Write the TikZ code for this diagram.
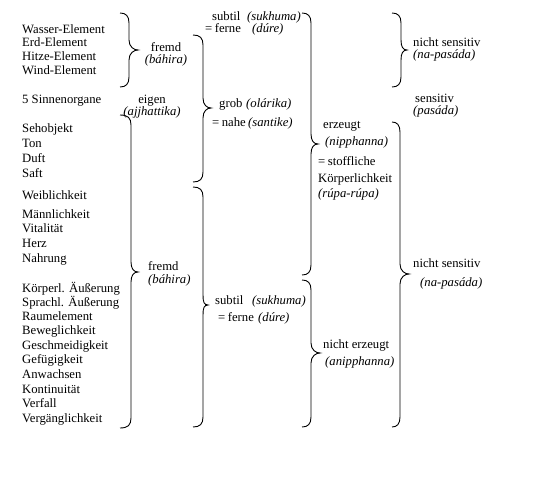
\documentclass[tikz,border=0pt]{standalone}
\usepackage{fontspec}
\setmainfont{Liberation Serif}
\tikzset{
  lbl/.style={anchor=base west, inner sep=0pt, font=\fontsize{12.7bp}{14bp}\selectfont},
  itl/.style={lbl, font=\fontsize{12.7bp}{14bp}\selectfont\itshape},
  lblc/.style={lbl, anchor=base},
  itlc/.style={itl, anchor=base},
  brc/.style={line width=0.9bp, black}
}
% right-pointing curly brace: end x, vertical x, tip x, top y, mid y, bottom y
\newcommand{\curlyR}[6]{%
  \draw[brc] (#1,#4) .. controls (#2-3,#4) and (#2,#4+3) .. (#2,#4+10)
    -- (#2,#5-10) .. controls (#2,#5-3) and (#3-4,#5) .. (#3,#5)
    .. controls (#3-4,#5) and (#2,#5+3) .. (#2,#5+10)
    -- (#2,#6-10) .. controls (#2,#6-3) and (#2-3,#6) .. (#1,#6);}
\newcommand{\eqsp}{=\kern2.5bp}
\begin{document}
\begin{tikzpicture}[x=1bp,y=-1bp]
\fill[white] (0,0) rectangle (536,486);
\useasboundingbox (0,0) rectangle (536,486);
% left column
\node[lbl] (w1) at (22,34) {Wasser-Element};
\node[lbl] (w2) at (22,47) {Erd-Element};
\node[lbl] (w3) at (22,61) {Hitze-Element};
\node[lbl] (w4) at (22,75) {Wind-Element};
\node[lbl] (s5) at (22,104) {5 Sinnenorgane};
\node[lbl] (o1) at (22,133) {Sehobjekt};
\node[lbl] (o2) at (22,148) {Ton};
\node[lbl] (o3) at (22,163) {Duft};
\node[lbl] (o4) at (22,178) {Saft};
\node[lbl] (o5) at (22,200) {Weiblichkeit};
\node[lbl] (o6) at (22,218) {Männlichkeit};
\node[lbl] (o7) at (22,232) {Vitalität};
\node[lbl] (o8) at (22,247) {Herz};
\node[lbl] (o9) at (22,262) {Nahrung};
\node[lbl] (p1) at (22,292) {Körperl. Äußerung};
\node[lbl] (p2) at (22,306) {Sprachl. Äußerung};
\node[lbl] (p3) at (22,320) {Raumelement};
\node[lbl] (p4) at (22,334) {Beweglichkeit};
\node[lbl] (p5) at (22,349) {Geschmeidigkeit};
\node[lbl] (p6) at (22,363) {Gefügigkeit};
\node[lbl] (p7) at (22,378) {Anwachsen};
\node[lbl] (p8) at (22,393) {Kontinuität};
\node[lbl] (p9) at (22,407) {Verfall};
\node[lbl] (p10) at (22,422) {Vergänglichkeit};
% braces column 1
\curlyR{120}{129}{138}{13}{50}{87}
\curlyR{120}{131}{138}{115}{272}{428}
% column 2 labels
\node[lblc] (fr1) at (166,52) {fremd};
\node[itlc] (ba1) at (166,64) {(báhira)};
\node[lblc] (ei) at (152,104) {eigen};
\node[itlc] (aj) at (152,116) {(ajjhattika)};
\node[lbl] (fr2) at (148,270) {fremd};
\node[itl] (ba2) at (148,283) {(báhira)};
% braces column 2
\curlyR{193}{203}{211}{35}{108}{182}
\curlyR{193}{203}{208}{187}{305}{427}
% column 3 labels
\node[lbl] (su1) at (212,21) {subtil};
\node[itl] (sk1) at (247,21) {(sukhuma)};
\node[lbl] (fe1) at (205,33) {\eqsp ferne};
\node[itl] (du1) at (252,33) {(dúre)};
\node[lbl] (gr) at (219,108) {grob};
\node[itl] (ol) at (246,108) {(olárika)};
\node[lbl] (na) at (212,127) {\eqsp nahe};
\node[itl] (sa) at (248,127) {(santike)};
\node[lbl] (su2) at (215,304) {subtil};
\node[itl] (sk2) at (252,304) {(sukhuma)};
\node[lbl] (fe2) at (218,321) {\eqsp ferne};
\node[itl] (du2) at (258,321) {(dúre)};
% braces column 3
\curlyR{302}{311}{318}{13}{144}{275}
\curlyR{302}{311}{320}{280}{353}{427}
% column 4 labels
\node[lbl] (er) at (323,129) {erzeugt};
\node[itl] (ni) at (325,146) {(nipphanna)};
\node[lbl] (st) at (318,166) {\eqsp stoffliche};
\node[lbl] (ko) at (318,183) {Körperlichkeit};
\node[itl] (ru) at (318,198) {(rúpa-rúpa)};
\node[lbl] (ne) at (323,348) {nicht erzeugt};
\node[itl] (an) at (325,365) {(anipphanna)};
% braces column 4
\curlyR{392}{401}{407}{13}{50}{87}
\curlyR{392}{400}{409}{122}{274}{427}
% column 5 labels
\node[lbl] (ns1) at (413,47) {nicht sensitiv};
\node[itl] (np1) at (413,59) {(na-pasáda)};
\node[lbl] (se) at (415,103) {sensitiv};
\node[itl] (pa) at (413,115) {(pasáda)};
\node[lbl] (ns2) at (413,267) {nicht sensitiv};
\node[itl] (np2) at (420,286) {(na-pasáda)};
\end{tikzpicture}
\end{document}
